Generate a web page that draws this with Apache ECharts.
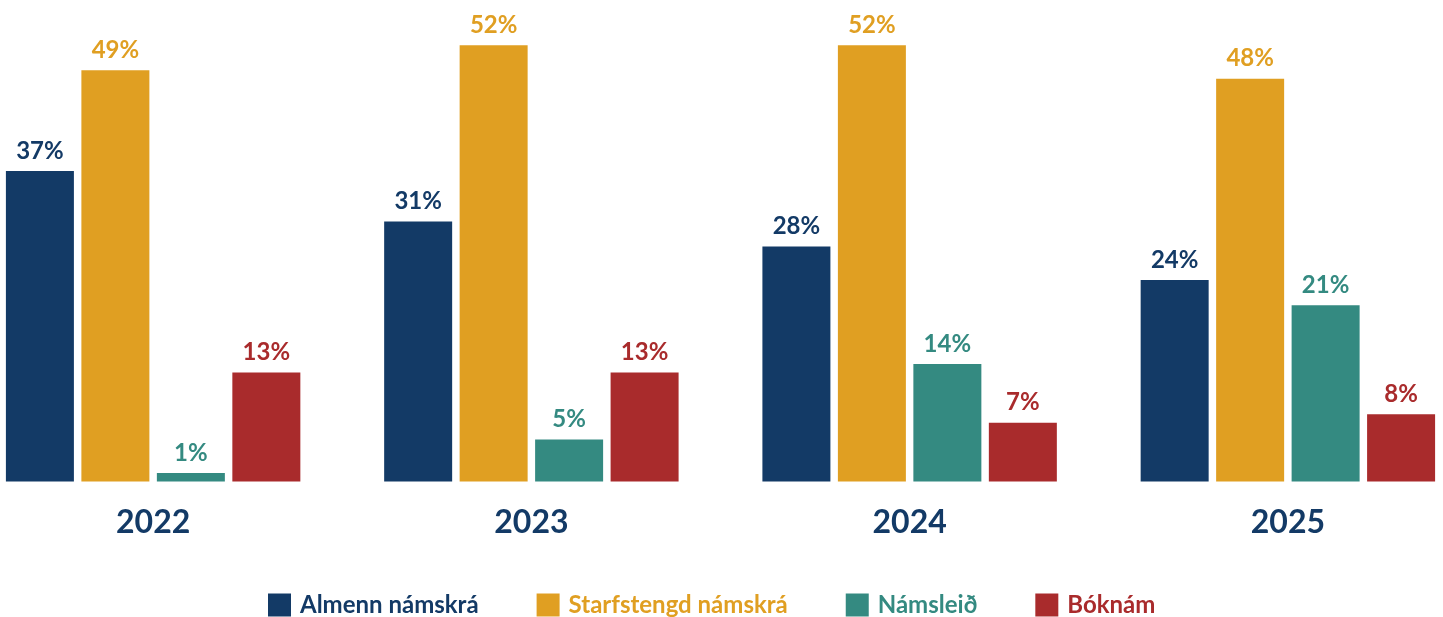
<!DOCTYPE html>
<html>
<head>
<meta charset="utf-8">
<script src="https://cdn.jsdelivr.net/npm/echarts@6/dist/echarts.min.js"></script>
<style>
  html, body { margin: 0; padding: 0; background: #fff; overflow: hidden; }
  #chart { width: 1513px; height: 617px; margin-left: -36px; }
</style>
</head>
<body>
<div id="chart"></div>
<script>
  const years = ["2022", "2023", "2024", "2025"];
  const seriesNames = ["Almenn námskrá", "Starfstengd námskrá", "Námsleið", "Bóknám"];
  const almenn = [37, 31, 28, 24];
  const starfstengd = [49, 52, 52, 48];
  const namsleid = [1, 5, 14, 21];
  const boknam = [13, 13, 7, 8];
  const colors = ["#133A66", "#E09F22", "#348A81", "#A92B2C"];

  const chart = echarts.init(document.getElementById("chart"));
  const values = [almenn, starfstengd, namsleid, boknam];

  const option = {
    backgroundColor: "#fff",
    animation: false,
    grid: { left: 0, right: 0, top: 20, bottom: 135.5, containLabel: false },
    legend: {
      top: 593,
      left: 304,
      padding: 0,
      itemWidth: 23,
      itemHeight: 23,
      itemGap: 58,
      icon: "rect",
      data: seriesNames.map((n, i) => ({
        name: n,
        textStyle: { color: colors[i] }
      })),
      textStyle: {
        fontFamily: "Lato",
        fontWeight: "bold",
        fontSize: 24,
        padding: [0, 0, 0, 4]
      }
    },
    xAxis: {
      type: "category",
      data: years,
      axisLine: { show: false },
      axisTick: { show: false },
      axisLabel: {
        color: "#133A66",
        fontFamily: "Lato",
        fontWeight: "bold",
        fontSize: 32,
        margin: 25
      }
    },
    yAxis: {
      type: "value",
      min: 0,
      max: 55,
      show: false,
      splitLine: { show: false }
    },
    series: seriesNames.map((n, i) => ({
      name: n,
      type: "bar",
      data: values[i],
      barWidth: 68,
      barGap: "11%",
      itemStyle: { color: colors[i] },
      label: {
        show: true,
        position: "top",
        distance: 8,
        formatter: "{c}%",
        color: colors[i],
        fontFamily: "Lato",
        fontWeight: "bold",
        fontSize: 24
      }
    }))
  };
  chart.setOption(option);
</script>
</body>
</html>
